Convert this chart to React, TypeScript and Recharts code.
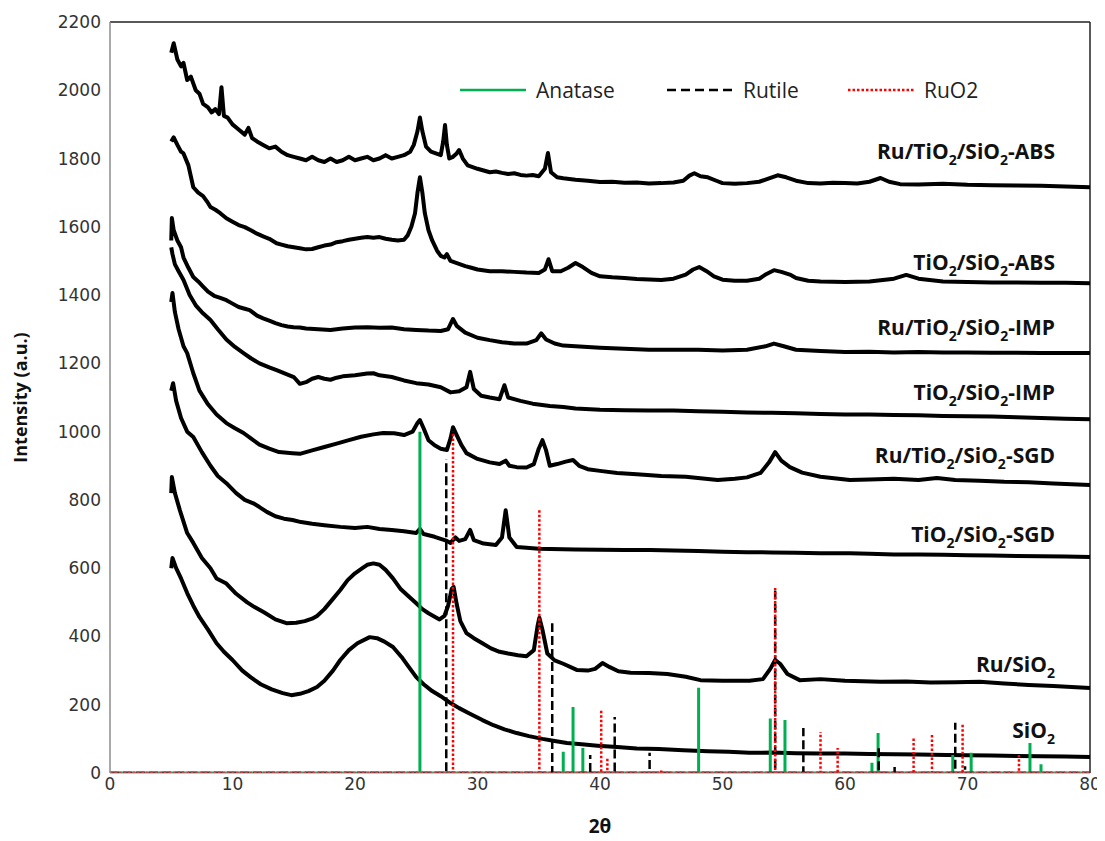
import React from "react";
import {
  LineChart,
  Line,
  XAxis,
  YAxis,
  Legend,
  ReferenceLine,
  ReferenceDot,
} from "recharts";

// XRD traces, [2theta, intensity]
const ruTiSiAbs: [number, number][] = [
  [5.0, 2110], [5.2, 2138], [5.5, 2090], [5.8, 2070], [6.0, 2080], [6.3, 2030], [6.6, 2040], [7.0, 2000],
  [7.3, 1990], [7.6, 1960], [8.0, 1950], [8.3, 1935], [8.6, 1945], [8.9, 1930], [9.1, 2009], [9.3, 1925],
  [9.6, 1920], [10, 1900], [10.5, 1885], [11, 1870], [11.3, 1890], [11.6, 1860], [12, 1850], [12.5, 1840],
  [13, 1830], [13.5, 1835], [14, 1820], [14.5, 1810], [15, 1805], [15.5, 1800], [16, 1795], [16.5, 1805],
  [17, 1795], [17.5, 1790], [18, 1800], [18.5, 1790], [19, 1795], [19.5, 1805], [20, 1795], [20.5, 1800],
  [21, 1805], [21.5, 1795], [22, 1800], [22.5, 1810], [23, 1800], [23.5, 1805], [24, 1810], [24.5, 1820],
  [24.8, 1840], [25.1, 1880], [25.3, 1920], [25.5, 1880], [25.8, 1835], [26.2, 1820], [26.6, 1815], [27.0, 1810],
  [27.2, 1850], [27.35, 1898], [27.5, 1840], [27.7, 1800], [28.0, 1805], [28.3, 1815], [28.5, 1825], [28.8, 1800],
  [29.2, 1780], [29.6, 1775], [30, 1770], [30.5, 1765], [31, 1760], [31.5, 1762], [32, 1758], [32.5, 1755],
  [33, 1757], [33.5, 1752], [34, 1750], [34.5, 1752], [35, 1748], [35.5, 1770], [35.75, 1816], [36, 1760],
  [36.5, 1745], [37, 1742], [38, 1738], [39, 1735], [40, 1731], [41, 1732], [42, 1729], [43, 1730],
  [44, 1727], [45, 1728], [46, 1730], [46.8, 1735], [47.3, 1750], [47.7, 1757], [48.2, 1748], [48.8, 1745],
  [49.5, 1735], [50, 1728], [51, 1726], [52, 1728], [53, 1732], [53.8, 1742], [54.5, 1751], [55.2, 1745],
  [56, 1735], [57, 1728], [58, 1727], [59, 1729], [60, 1728], [61, 1727], [62, 1732], [62.9, 1743],
  [63.6, 1732], [64.5, 1725], [66, 1724], [68, 1726], [70, 1723], [72, 1722], [74, 1721], [76, 1720],
  [78, 1718], [80, 1716],
];

const tiSiAbs: [number, number][] = [
  [5.0, 1850], [5.2, 1862], [5.5, 1840], [5.8, 1820], [6.0, 1815], [6.4, 1780], [6.8, 1716], [7.2, 1700],
  [7.6, 1690], [8.0, 1670], [8.2, 1658], [8.6, 1650], [9.0, 1640], [9.5, 1625], [10, 1615], [10.5, 1605],
  [11, 1599], [11.5, 1590], [12, 1580], [12.5, 1572], [13, 1565], [13.6, 1552], [14, 1548], [14.5, 1543],
  [15, 1540], [15.5, 1537], [16, 1534], [16.5, 1535], [17, 1540], [17.5, 1545], [18, 1548], [18.5, 1555],
  [19, 1558], [19.5, 1562], [20, 1565], [20.5, 1568], [21, 1570], [21.5, 1568], [22, 1570], [22.5, 1565],
  [23, 1562], [23.5, 1560], [24, 1562], [24.3, 1575], [24.6, 1600], [24.9, 1640], [25.1, 1700], [25.3, 1745],
  [25.5, 1700], [25.7, 1640], [26.0, 1590], [26.3, 1560], [26.7, 1530], [27.0, 1515], [27.3, 1510], [27.5, 1520],
  [27.8, 1500], [28.2, 1495], [28.6, 1490], [29, 1485], [29.5, 1480], [30, 1475], [31, 1470], [32, 1470],
  [33, 1468], [34, 1466], [35, 1465], [35.5, 1475], [35.8, 1505], [36.1, 1470], [36.8, 1470], [37.4, 1480],
  [38, 1494], [38.6, 1482], [39.3, 1465], [40, 1455], [41, 1452], [42, 1450], [43, 1447], [44, 1446],
  [45, 1444], [46, 1448], [47, 1460], [47.6, 1475], [48.1, 1482], [48.7, 1470], [49.3, 1455], [50, 1445],
  [51, 1442], [52, 1442], [53, 1448], [53.6, 1462], [54.2, 1473], [54.8, 1468], [55.5, 1460], [56, 1450],
  [57, 1442], [58, 1440], [60, 1438], [62, 1440], [64, 1448], [65, 1459], [66, 1448], [68, 1440],
  [70, 1438], [72, 1437], [74, 1437], [76, 1436], [78, 1436], [80, 1435],
];

const ruTiSiImp: [number, number][] = [
  [5.0, 1560], [5.05, 1626], [5.2, 1590], [5.5, 1560], [5.8, 1540], [6.0, 1510], [6.4, 1480], [6.8, 1453],
  [7.2, 1440], [7.6, 1425], [8.0, 1410], [8.5, 1398], [9.0, 1392], [9.5, 1385], [10, 1375], [10.5, 1365],
  [11, 1360], [11.4, 1356], [12, 1340], [12.5, 1332], [13, 1325], [13.5, 1318], [14, 1312], [14.5, 1308],
  [15, 1306], [15.5, 1305], [16, 1302], [17, 1300], [18, 1298], [19, 1302], [20, 1305], [21, 1306],
  [22, 1304], [23, 1305], [24, 1300], [25, 1298], [26, 1296], [27, 1295], [27.6, 1300], [28.0, 1330],
  [28.3, 1310], [29, 1290], [30, 1275], [31, 1268], [32, 1262], [33, 1258], [34, 1258], [34.8, 1268],
  [35.2, 1288], [35.6, 1270], [36.3, 1258], [37, 1252], [38, 1250], [39, 1248], [40, 1246], [42, 1243],
  [44, 1240], [46, 1240], [48, 1240], [50, 1238], [52, 1240], [53.5, 1250], [54.2, 1258], [55, 1250],
  [56, 1240], [58, 1236], [60, 1233], [62, 1234], [64, 1232], [66, 1233], [68, 1232], [70, 1232],
  [72, 1231], [74, 1231], [76, 1230], [78, 1230], [80, 1230],
];

const tiSiImp: [number, number][] = [
  [5.0, 1540], [5.1, 1520], [5.3, 1490], [5.6, 1470], [6.0, 1444], [6.5, 1400], [7.0, 1370], [7.5, 1350],
  [8.2, 1327], [8.8, 1300], [9.5, 1270], [10.2, 1248], [10.9, 1230], [11.5, 1215], [12.2, 1200], [13, 1188],
  [13.6, 1180], [14.3, 1170], [15, 1160], [15.5, 1140], [16, 1145], [16.5, 1155], [17, 1160], [17.5, 1155],
  [18, 1152], [18.5, 1158], [19, 1162], [20, 1165], [21, 1170], [21.5, 1171], [22, 1165], [23, 1160],
  [24, 1150], [25, 1142], [26, 1138], [27, 1130], [27.8, 1115], [28.5, 1118], [29.1, 1130], [29.4, 1175],
  [29.7, 1125], [30.3, 1105], [31, 1100], [31.8, 1095], [32.2, 1136], [32.5, 1100], [33.5, 1090], [34.5, 1082],
  [35.9, 1075], [37, 1072], [38, 1068], [40, 1064], [42, 1063], [44, 1062], [46, 1062], [48, 1060],
  [50, 1058], [52, 1056], [54, 1055], [56, 1054], [58, 1052], [60, 1050], [62, 1050], [64, 1049],
  [66, 1048], [68, 1046], [70, 1045], [72, 1044], [74, 1042], [76, 1040], [78, 1038], [80, 1036],
];

const ruTiSiSgd: [number, number][] = [
  [5.0, 1380], [5.1, 1406], [5.3, 1350], [5.6, 1300], [6.0, 1250], [6.3, 1230], [6.8, 1171], [7.3, 1120],
  [8.0, 1080], [8.7, 1050], [9.5, 1025], [10.2, 1010], [10.9, 996], [11.5, 980], [12.2, 962], [13, 950],
  [13.8, 940], [14.9, 937], [15.5, 935], [16.5, 945], [17.5, 955], [18.5, 965], [19.5, 975], [20.5, 985],
  [21.5, 992], [22.3, 996], [23.2, 995], [24, 990], [24.7, 1000], [25.1, 1025], [25.3, 1034], [25.6, 1010],
  [26, 975], [26.5, 960], [27, 950], [27.5, 946], [27.8, 980], [28.0, 1013], [28.3, 990], [28.7, 960],
  [29.1, 937], [30, 920], [31, 910], [31.8, 905], [32.3, 915], [32.6, 900], [33.2, 896], [34, 895],
  [34.6, 905], [35.0, 950], [35.3, 975], [35.6, 945], [35.9, 900], [36.5, 905], [37.2, 912], [37.8, 917],
  [38.3, 900], [39, 890], [40, 885], [41.4, 879], [43, 875], [45, 870], [47, 868], [49.6, 858],
  [51, 862], [52, 866], [53.1, 879], [53.8, 910], [54.3, 940], [54.8, 915], [55.5, 896], [56.5, 880],
  [58, 868], [60.4, 858], [62, 860], [64, 862], [66, 858], [67.5, 864], [69, 858], [71, 856],
  [73, 853], [75, 852], [77, 848], [78.5, 846], [80, 844],
];

const tiSiSgd: [number, number][] = [
  [5.0, 1120], [5.15, 1142], [5.4, 1090], [5.8, 1040], [6.3, 1000], [6.8, 984], [7.5, 940], [8.2, 900],
  [8.8, 870], [9.5, 849], [10.3, 820], [11, 800], [11.7, 790], [12.2, 779], [12.8, 765], [13.5, 752],
  [14.2, 745], [14.9, 741], [15.6, 735], [16.5, 730], [17.5, 726], [18.8, 721], [20, 718], [21, 721],
  [22, 715], [23, 712], [24, 708], [25, 703], [25.3, 715], [25.6, 700], [26.5, 692], [27.5, 680],
  [27.8, 674], [28.2, 690], [28.5, 680], [29, 685], [29.4, 712], [29.7, 682], [30.5, 672], [31.5, 668],
  [32.0, 690], [32.3, 770], [32.6, 690], [33.2, 662], [34, 660], [35, 657], [36, 656], [38, 655],
  [40, 654], [42, 653], [44.1, 653], [46, 652], [48, 650], [50, 648], [52, 647], [54, 646],
  [56, 645], [58, 644], [60.4, 644], [62, 642], [64, 640], [66, 640], [68, 639], [70, 638],
  [72, 637], [74, 636], [76, 635], [78, 634], [80, 633],
];

const ruSi: [number, number][] = [
  [5.0, 820], [5.05, 867], [5.3, 820], [5.7, 770], [6.3, 703], [6.8, 674], [7.5, 630], [8.2, 600],
  [8.7, 570], [9.5, 555], [10.3, 525], [11.2, 500], [11.8, 486], [12.6, 470], [13.5, 450], [14.4, 439],
  [15.2, 440], [15.9, 445], [16.5, 452], [16.9, 460], [17.5, 480], [18.2, 510], [18.8, 536], [19.4, 565],
  [20, 585], [20.6, 600], [21, 610], [21.5, 614], [22, 610], [22.5, 595], [23.1, 570], [23.7, 540],
  [24.3, 520], [25, 497], [25.5, 480], [26, 468], [26.5, 458], [26.9, 450], [27.3, 460], [27.6, 490],
  [27.9, 540], [28.05, 545], [28.3, 495], [28.6, 445], [29.1, 410], [29.7, 395], [30.4, 380], [31.1, 365],
  [31.8, 355], [32.5, 350], [33.3, 345], [34, 342], [34.6, 360], [34.9, 430], [35.05, 455], [35.3, 420],
  [35.7, 350], [36.3, 330], [37, 320], [38.1, 302], [39, 300], [39.6, 305], [40.2, 322], [40.8, 310],
  [41.5, 298], [42.5, 294], [44, 293], [45.5, 290], [47, 282], [48.2, 272], [50, 270], [52.2, 270],
  [53.3, 275], [53.9, 305], [54.3, 331], [54.7, 320], [55.3, 290], [56.3, 272], [58, 275], [60, 270],
  [62.9, 267], [65, 268], [67, 265], [69, 266], [71, 267], [73, 262], [75, 258], [77, 255],
  [78.5, 252], [80, 249],
];

const si: [number, number][] = [
  [5.0, 600], [5.1, 630], [5.4, 600], [5.8, 570], [6.3, 527], [6.8, 490], [7.3, 457], [8, 420],
  [8.7, 380], [9.3, 355], [10, 331], [10.8, 300], [11.5, 280], [12.3, 260], [13.2, 245], [14.1, 234],
  [14.8, 228], [15.5, 232], [16.2, 240], [16.9, 252], [17.5, 270], [18.2, 300], [18.8, 331], [19.5, 360],
  [20.2, 380], [21.2, 398], [21.8, 395], [22.4, 385], [23.1, 369], [23.8, 340], [24.4, 310], [25, 281],
  [25.6, 260], [26.3, 240], [27, 225], [27.8, 205], [28.5, 190], [29.3, 175], [30.4, 155], [31.3, 140],
  [32.2, 128], [33.2, 117], [34.2, 108], [35.3, 100], [36.3, 94], [37.3, 88], [38.5, 84], [39.8, 80],
  [41.4, 76], [43, 72], [44.8, 70], [46.8, 67], [48.8, 64], [50.5, 62], [52.2, 59], [54, 60],
  [56, 58], [58, 57], [60, 57], [62, 56], [64, 55], [66, 54], [68.3, 53], [70, 52],
  [72, 51], [74, 50], [76, 49], [78, 48], [80, 47],
];

// reference patterns (peak position, stick height)
const anataseX = [25.3, 37.0, 37.8, 38.6, 48.05, 53.9, 55.1, 62.2, 62.7, 68.8, 70.3, 75.1, 76.0];
const anataseH = [1000, 62, 193, 73, 250, 160, 155, 30, 117, 53, 59, 88, 26];
const rutileX = [27.45, 36.1, 39.2, 41.2, 44.05, 54.3, 56.6, 62.75, 64.05, 69.0, 69.8];
const rutileH = [920, 439, 53, 164, 59, 540, 132, 80, 29, 147, 20];
const ruo2X = [28.0, 35.05, 40.1, 40.6, 45.0, 54.3, 58.0, 59.4, 65.6, 67.1, 69.6, 74.2];
const ruo2H = [1000, 770, 183, 44, 8, 542, 120, 73, 105, 117, 146, 53];

const xTicks = [0, 10, 20, 30, 40, 50, 60, 70, 80];
const yTicks = [0, 200, 400, 600, 800, 1000, 1200, 1400, 1600, 1800, 2000, 2200];

const sampleNames = [
  "Ru/TiO2/SiO2-ABS",
  "TiO2/SiO2-ABS",
  "Ru/TiO2/SiO2-IMP",
  "TiO2/SiO2-IMP",
  "Ru/TiO2/SiO2-SGD",
  "TiO2/SiO2-SGD",
  "Ru/SiO2",
  "SiO2",
];
const sampleLabelY = [1798, 1473, 1283, 1093, 908, 677, 296, 103];

const traces = [ruTiSiAbs, tiSiAbs, ruTiSiImp, tiSiImp, ruTiSiSgd, tiSiSgd, ruSi, si];

const toPts = (pairs: [number, number][]) => pairs.map(([x, y]) => ({ x, y }));

// baseline along the axis with a stick at each peak; the stick is cut off
// before returning so dashes don't overlap themselves
const sticks = (xs: number[], hs: number[]) => {
  const pts: { x: number; y: number | null }[] = [{ x: 0, y: 0 }];
  xs.forEach((x, i) => {
    pts.push({ x, y: 0 }, { x, y: hs[i] }, { x, y: null }, { x, y: 0 });
  });
  pts.push({ x: 80, y: 0 });
  return pts;
};

const FONT = "'Open Sans', 'Liberation Sans', sans-serif";

// "TiO2" style text with subscript 2
function subText(name: string) {
  const parts = name.split("2");
  const out: React.ReactNode[] = [];
  parts.forEach((p, i) => {
    if (p) out.push(<tspan key={"p" + i} dy={i > 0 ? -6 : 0}>{p}</tspan>);
    if (i < parts.length - 1)
      out.push(
        <tspan key={"s" + i} fontSize={14} dy={i > 0 && !p ? 0 : 6}>
          2
        </tspan>
      );
  });
  return out;
}

const SampleLabel = (name: string) => (props: any) => {
  const vb = props.viewBox || {};
  const x = vb.x + (vb.width || 0) / 2;
  const y = vb.y + (vb.height || 0) / 2;
  return (
    <text x={x} y={y} textAnchor="end" fontFamily={FONT} fontWeight={700} fontSize={21} fill="#111">
      {subText(name)}
    </text>
  );
};

const YTitle = (props: any) => {
  const vb = props.viewBox;
  const cx = vb.x - 10;
  const cy = vb.y + vb.height / 2;
  return (
    <text
      x={cx}
      y={cy}
      transform={`rotate(-90, ${cx}, ${cy})`}
      textAnchor="middle"
      dominantBaseline="central"
      fontFamily={FONT}
      fontWeight={700}
      fontSize={18}
      fill="#111"
    >
      Intensity (a.u.)
    </text>
  );
};

const XTitle = (props: any) => {
  const vb = props.viewBox;
  return (
    <text
      x={vb.x + vb.width / 2}
      y={vb.y + 53}
      textAnchor="middle"
      dominantBaseline="central"
      fontFamily={FONT}
      fontWeight={700}
      fontSize={19}
      fill="#111"
    >
      2θ
    </text>
  );
};

const PhaseLegend = () => {
  const item = (left: number, color: string, dash: string | undefined, text: string) => (
    <div style={{ position: "absolute", left, top: 0, display: "flex", alignItems: "center", height: 28 }}>
      <svg width={66} height={6}>
        <line x1={0} y1={3} x2={66} y2={3} stroke={color} strokeWidth={2.5} strokeDasharray={dash} />
      </svg>
      <span style={{ marginLeft: 10, fontFamily: FONT, fontSize: 21, color: "#222" }}>{text}</span>
    </div>
  );
  return (
    <div style={{ position: "relative", width: 520, height: 28 }}>
      {item(0, "#00B050", undefined, "Anatase")}
      {item(207, "#000", "9 5", "Rutile")}
      {item(388, "#FF0000", "2.5 2", "RuO2")}
    </div>
  );
};

export default function App() {
  return (
    <LineChart width={1097} height={833} margin={{ top: 14, right: 15, bottom: 0, left: 22 }}>
      <XAxis
        type="number"
        dataKey="x"
        domain={[0, 80]}
        ticks={xTicks}
        allowDataOverflow
        tickLine={false}
        tickSize={0}
        tickMargin={5}
        axisLine={{ stroke: "#8c8c8c" }}
        height={68}
        tick={{ fontSize: 17, fill: "#333", fontFamily: "'DejaVu Sans', sans-serif" }}
        label={<XTitle />}
      />
      <YAxis
        type="number"
        domain={[0, 2200]}
        ticks={yTicks}
        allowDataOverflow
        tickLine={false}
        tickSize={0}
        tickMargin={9}
        width={80}
        axisLine={{ stroke: "#8c8c8c", strokeWidth: 1.5 }}
        tick={{ fontSize: 17, fill: "#333", fontFamily: "'DejaVu Sans', sans-serif" }}
        label={<YTitle />}
      />
      <ReferenceLine y={2200} stroke="#222" strokeWidth={1.5} />
      <ReferenceLine x={80} stroke="#222" strokeWidth={1.5} />
      <Legend
        layout="horizontal"
        verticalAlign="middle"
        align="center"
        wrapperStyle={{ top: 68, left: 452, width: 520 }}
        content={<PhaseLegend />}
      />
      {traces.map((t, i) => (
        <Line
          key={sampleNames[i]}
          data={toPts(t)}
          dataKey="y"
          type="linear"
          stroke="#000"
          strokeWidth={4}
          strokeLinejoin="round"
          dot={false}
          isAnimationActive={false}
        />
      ))}
      <Line data={sticks(anataseX, anataseH)} dataKey="y" type="linear" stroke="#00B050" strokeWidth={3} dot={false} isAnimationActive={false} />
      <Line data={sticks(rutileX, rutileH)} dataKey="y" type="linear" stroke="#000" strokeWidth={2.5} strokeDasharray="9 4" dot={false} isAnimationActive={false} />
      <Line data={sticks(ruo2X, ruo2H)} dataKey="y" type="linear" stroke="#FF0000" strokeWidth={2.5} strokeDasharray="2.5 2" dot={false} isAnimationActive={false} />
      {sampleNames.map((n, i) => (
        <ReferenceDot key={n} x={77.14} y={sampleLabelY[i]} r={0} fill="none" stroke="none" label={SampleLabel(n)} />
      ))}
    </LineChart>
  );
}
